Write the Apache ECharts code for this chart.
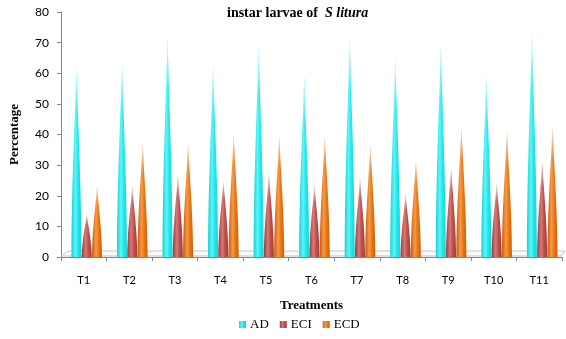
<!DOCTYPE html>
<html>
<head>
<meta charset="utf-8">
<script src="https://cdn.jsdelivr.net/npm/echarts@6/dist/echarts.min.js"></script>
<style>
  html, body { margin: 0; padding: 0; background: #fff; }
  #chart { width: 566px; height: 339px; }
</style>
</head>
<body>
<div id="chart"></div>
<script>
// Treatment categories and measured percentages
const categories = ['T1', 'T2', 'T3', 'T4', 'T5', 'T6', 'T7', 'T8', 'T9', 'T10', 'T11'];
const adValues  = [62, 63, 72, 62.5, 69, 59, 71.5, 64.5, 69.5, 59, 72.5];
const eciValues = [14, 23, 26.5, 25, 27, 23.5, 25.5, 20.5, 29, 24, 31];
const ecdValues = [23, 37, 37, 40, 39.5, 39.5, 36.5, 31.5, 42.5, 41, 42.5];
const yTicks = [0, 10, 20, 30, 40, 50, 60, 70, 80];

const serif = '"Liberation Serif", "DejaVu Serif", serif';
const sans = 'Lato, "Liberation Sans", sans-serif';

// Slightly bulged cone outline
const CONE = 'path://M0,100 C0,62 40,22 50,0 C60,22 100,62 100,100 Z';

function shade(dark, mid, light) {
  return {
    type: 'linear', x: 0, y: 0, x2: 1, y2: 0,
    colorStops: [
      { offset: 0, color: dark },
      { offset: 0.4, color: light },
      { offset: 0.65, color: mid },
      { offset: 1, color: dark }
    ]
  };
}
const tipFade = {
  type: 'linear', x: 0, y: 0, x2: 0, y2: 1,
  colorStops: [
    { offset: 0, color: 'rgba(255,255,255,0.95)' },
    { offset: 0.12, color: 'rgba(255,255,255,0.35)' },
    { offset: 0.25, color: 'rgba(255,255,255,0)' },
    { offset: 1, color: 'rgba(255,255,255,0)' }
  ]
};

const palette = {
  AD:  { legend: '#1ee6e8', fill: shade('#18d2d8', '#22e8ec', '#5ff5f6') },
  ECI: { legend: '#c0504d', fill: shade('#9e3d3b', '#c0504d', '#d57a77') },
  ECD: { legend: '#e8730f', fill: shade('#cc5e06', '#ee7711', '#f59a4c') }
};

// Cones on axis 0; white tip highlights on the hidden twin axis 1 so they
// get the same slot layout without squeezing the cones.
function coneSeries(name, data, overlay) {
  return {
    name: overlay ? name + ' tip' : name,
    type: 'pictorialBar',
    xAxisIndex: overlay ? 1 : 0,
    symbol: CONE,
    symbolSize: [10, '100%'],
    symbolOffset: [3, 0],
    barWidth: 10,
    barGap: '3%',
    z: overlay ? 4 : 3,
    silent: overlay,
    itemStyle: { color: overlay ? tipFade : palette[name].fill },
    data: data
  };
}

const chart = echarts.init(document.getElementById('chart'), null, { renderer: 'canvas' });

const option = {
  animation: false,
  color: [palette.AD.legend, palette.ECI.legend, palette.ECD.legend],
  title: {
    text: '{b|instar larvae of  }{i|S litura}',
    left: 222,
    top: 1,
    textStyle: {
      rich: {
        b: { fontFamily: serif, fontWeight: 'bold', fontSize: 14, color: '#000' },
        i: { fontFamily: serif, fontWeight: 'bold', fontStyle: 'italic', fontSize: 14, color: '#000' }
      }
    }
  },
  legend: {
    data: ['AD', 'ECI', 'ECD'],
    top: 313,
    left: 234,
    itemWidth: 7,
    itemHeight: 7,
    itemGap: 11,
    icon: 'rect',
    textStyle: { fontFamily: serif, fontSize: 13, color: '#000', padding: [0, 0, 0, -1] }
  },
  grid: { left: 59, right: 4, top: 12, bottom: 82, containLabel: false },
  xAxis: [{
    type: 'category',
    data: categories,
    name: 'Treatments',
    nameLocation: 'middle',
    nameGap: 42,
    nameTextStyle: { fontFamily: serif, fontWeight: 'bold', fontSize: 13, color: '#000' },
    axisLine: { lineStyle: { color: '#868686', width: 1 } },
    axisTick: { show: true, alignWithLabel: false, length: 4, lineStyle: { color: '#868686' } },
    axisLabel: { fontFamily: sans, fontSize: 11, color: '#000', margin: 18 }
  }, {
    type: 'category',
    data: categories,
    show: false
  }],
  yAxis: {
    type: 'value',
    min: yTicks[0],
    max: yTicks[yTicks.length - 1],
    interval: yTicks[1] - yTicks[0],
    name: 'Percentage',
    nameLocation: 'middle',
    nameGap: 40,
    nameRotate: 90,
    nameTextStyle: { fontFamily: serif, fontWeight: 'bold', fontSize: 13, color: '#000' },
    axisLine: { show: true, lineStyle: { color: '#868686' } },
    axisTick: { show: true, length: 4, lineStyle: { color: '#868686' } },
    splitLine: { show: false },
    axisLabel: { fontFamily: sans, fontSize: 12, color: '#000', margin: 12 }
  },
  series: [
    coneSeries('AD', adValues, false),
    coneSeries('ECI', eciValues, false),
    coneSeries('ECD', ecdValues, false),
    coneSeries('AD', adValues, true),
    coneSeries('ECI', eciValues, true),
    coneSeries('ECD', ecdValues, true)
  ]
};

chart.setOption(option);

// Thin 3D floor plate under the cones, placed from the axis scale
const half = (chart.convertToPixel({ xAxisIndex: 0 }, 1) - chart.convertToPixel({ xAxisIndex: 0 }, 0)) / 2;
const left = chart.convertToPixel({ xAxisIndex: 0 }, 0) - half;
const right = chart.convertToPixel({ xAxisIndex: 0 }, categories.length - 1) + half;
const base = chart.convertToPixel({ yAxisIndex: 0 }, 0);
chart.setOption({
  graphic: [{
    type: 'polygon',
    z: 1,
    shape: {
      points: [[left, base - 1], [left + 7, base - 6], [right + 3, base - 6], [right - 1, base - 1]]
    },
    style: { fill: '#fafafa', stroke: '#c4c4c4', lineWidth: 1 }
  }]
});
</script>
</body>
</html>
